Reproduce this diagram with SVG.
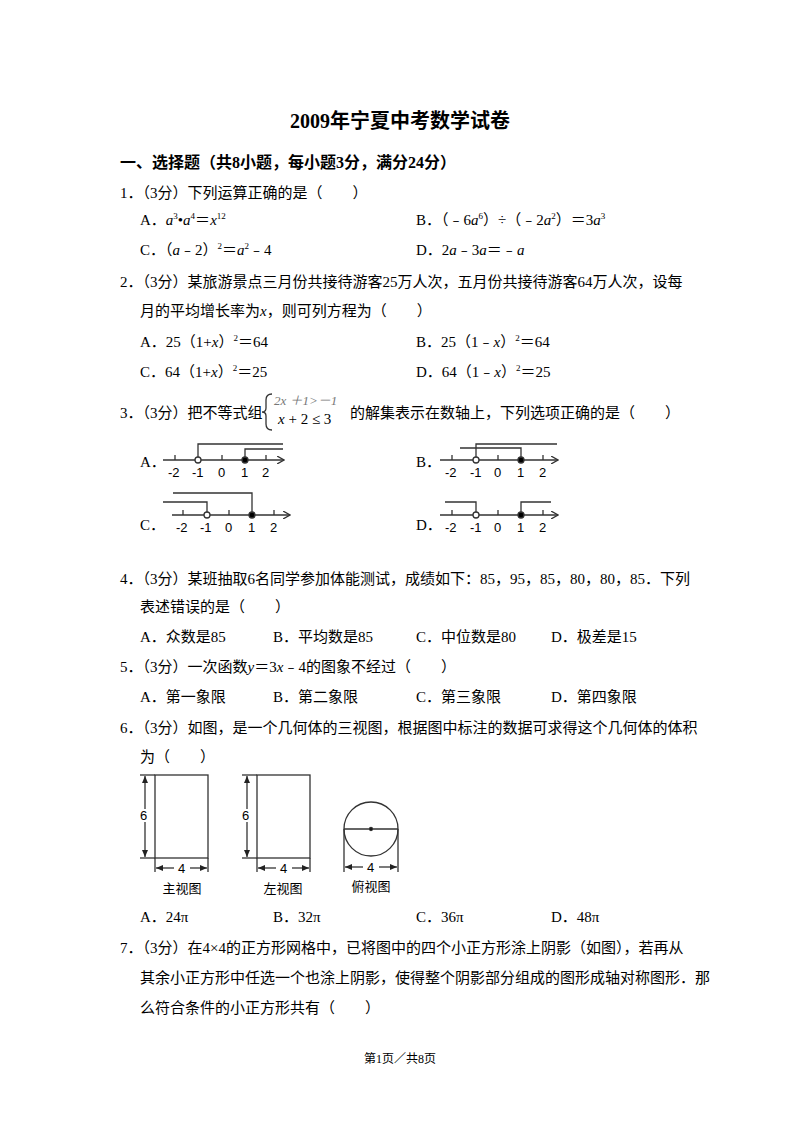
<svg xmlns="http://www.w3.org/2000/svg" width="800" height="1132" viewBox="0 0 800 1132">
<style>
text{font-family:"Liberation Serif","Noto Sans CJK SC",serif;font-size:15px;fill:#000}
.b{font-weight:bold}
.f{font-family:"Liberation Sans","Noto Sans CJK SC",sans-serif;font-size:13px}
.i{font-style:italic}
line,path,rect,circle{stroke:#333;stroke-width:1.3;fill:none}
.t{stroke:#888;stroke-width:1}
.o{fill:#fff}
.k{fill:#000}
</style>
<defs>
<marker id="ar" markerWidth="8" markerHeight="8" refX="7" refY="4" orient="auto" markerUnits="userSpaceOnUse"><path d="M0,0 L7,4 L0,8" stroke="#333" fill="none"/></marker>
<marker id="af" markerWidth="8" markerHeight="8" refX="7" refY="4" orient="auto-start-reverse" markerUnits="userSpaceOnUse"><path d="M0,1 L7,4 L0,7Z" style="fill:#222;stroke:none"/></marker>
</defs>
<rect x="0" y="0" width="800" height="1132" style="fill:#fff;stroke:none"/>
<text x="400" y="128" text-anchor="middle" class="b" style="font-size:20px">2009年宁夏中考数学试卷</text>
<text x="120" y="168" class="b" style="font-size:16px">一、选择题（共8小题，每小题3分，满分24分）</text>
<text x="120" y="198">1．（3分）下列运算正确的是（　　）</text>
<text x="140" y="225">A．<tspan class="i">a</tspan><tspan font-size="9" dy="-6">3</tspan><tspan dy="6">•</tspan><tspan class="i">a</tspan><tspan font-size="9" dy="-6">4</tspan><tspan dy="6">＝</tspan><tspan class="i">x</tspan><tspan font-size="9" dy="-6">12</tspan></text>
<text x="416" y="225">B．（﹣6<tspan class="i">a</tspan><tspan font-size="9" dy="-6">6</tspan><tspan dy="6">）÷（﹣2</tspan><tspan class="i">a</tspan><tspan font-size="9" dy="-6">2</tspan><tspan dy="6">）＝3</tspan><tspan class="i">a</tspan><tspan font-size="9" dy="-6">3</tspan></text>
<text x="140" y="255">C．（<tspan class="i">a</tspan>﹣2）<tspan font-size="9" dy="-6">2</tspan><tspan dy="6">＝</tspan><tspan class="i">a</tspan><tspan font-size="9" dy="-6">2</tspan><tspan dy="6">﹣4</tspan></text>
<text x="416" y="255">D．2<tspan class="i">a</tspan>﹣3<tspan class="i">a</tspan>＝﹣<tspan class="i">a</tspan></text>
<text x="120" y="287">2．（3分）某旅游景点三月份共接待游客25万人次，五月份共接待游客64万人次，设每</text>
<text x="140" y="316">月的平均增长率为<tspan class="i">x</tspan>，则可列方程为（　　）</text>
<text x="140" y="347">A．25（1+<tspan class="i">x</tspan>）<tspan font-size="9" dy="-6">2</tspan><tspan dy="6">＝64</tspan></text>
<text x="416" y="347">B．25（1﹣<tspan class="i">x</tspan>）<tspan font-size="9" dy="-6">2</tspan><tspan dy="6">＝64</tspan></text>
<text x="140" y="377">C．64（1+<tspan class="i">x</tspan>）<tspan font-size="9" dy="-6">2</tspan><tspan dy="6">＝25</tspan></text>
<text x="416" y="377">D．64（1﹣<tspan class="i">x</tspan>）<tspan font-size="9" dy="-6">2</tspan><tspan dy="6">＝25</tspan></text>
<text x="120" y="418">3．（3分）把不等式组</text>
<path d="M272,394 Q266,394 266,400 L266,408 Q266,412 262,412 Q266,412 266,416 L266,424 Q266,430 272,430" stroke="#000"/>
<text x="274" y="405" class="i" style="font-size:13px;fill:#777">2x ＋1&gt;－1</text>
<text x="278" y="424" style="font-size:15px"><tspan class="i">x</tspan> + 2 ≤ 3</text>
<text x="350" y="418">的解集表示在数轴上，下列选项正确的是（　　）</text>
<g id="optA">
<text x="140" y="467">A．</text>
<line x1="163" y1="460" x2="284" y2="460" marker-end="url(#ar)"/>
<g class="t"><line x1="175" y1="455" x2="175" y2="460"/><line x1="222" y1="455" x2="222" y2="460"/><line x1="266" y1="455" x2="266" y2="460"/></g>
<path d="M198,457 V444 H283"/><path d="M245,457 V449 H283"/>
<circle cx="198" cy="460" r="3" class="o"/><circle cx="245" cy="460" r="3" class="k"/>
<text class="f" x="168" y="477">-2</text><text class="f" x="192" y="477">-1</text><text class="f" x="218" y="477">0</text><text class="f" x="241" y="477">1</text><text class="f" x="262" y="477">2</text>
</g>
<g id="optB">
<text x="416" y="467">B．</text>
<line x1="440" y1="460" x2="558" y2="460" marker-end="url(#ar)"/>
<g class="t"><line x1="452" y1="455" x2="452" y2="460"/><line x1="498" y1="455" x2="498" y2="460"/><line x1="543" y1="455" x2="543" y2="460"/></g>
<path d="M476,457 V444 H557"/><path d="M460,448 H521 V457"/>
<circle cx="476" cy="460" r="3" class="o"/><circle cx="521" cy="460" r="3" class="k"/>
<text class="f" x="445" y="477">-2</text><text class="f" x="470" y="477">-1</text><text class="f" x="494" y="477">0</text><text class="f" x="517" y="477">1</text><text class="f" x="539" y="477">2</text>
</g>
<g id="optC">
<text x="140" y="530">C．</text>
<line x1="172" y1="515" x2="290" y2="515" marker-end="url(#ar)"/>
<g class="t"><line x1="183" y1="510" x2="183" y2="515"/><line x1="229" y1="510" x2="229" y2="515"/><line x1="274" y1="510" x2="274" y2="515"/></g>
<path d="M163,502 H207 V512"/><path d="M173,493 H252 V512"/>
<circle cx="207" cy="515" r="3" class="o"/><circle cx="252" cy="515" r="3" class="k"/>
<text class="f" x="176" y="532">-2</text><text class="f" x="200" y="532">-1</text><text class="f" x="225" y="532">0</text><text class="f" x="248" y="532">1</text><text class="f" x="270" y="532">2</text>
</g>
<g id="optD">
<text x="416" y="530">D．</text>
<line x1="440" y1="515" x2="558" y2="515" marker-end="url(#ar)"/>
<g class="t"><line x1="452" y1="510" x2="452" y2="515"/><line x1="498" y1="510" x2="498" y2="515"/><line x1="543" y1="510" x2="543" y2="515"/></g>
<path d="M445,502 H476 V512"/><path d="M521,512 V502 H551"/>
<circle cx="476" cy="515" r="3" class="o"/><circle cx="521" cy="515" r="3" class="k"/>
<text class="f" x="445" y="532">-2</text><text class="f" x="470" y="532">-1</text><text class="f" x="494" y="532">0</text><text class="f" x="517" y="532">1</text><text class="f" x="539" y="532">2</text>
</g>
<text x="120" y="584">4．（3分）某班抽取6名同学参加体能测试，成绩如下：85，95，85，80，80，85．下列</text>
<text x="140" y="612">表述错误的是（　　）</text>
<text x="140" y="642">A．众数是85</text><text x="273" y="642">B．平均数是85</text><text x="416" y="642">C．中位数是80</text><text x="551" y="642">D．极差是15</text>
<text x="120" y="672">5．（3分）一次函数<tspan class="i">y</tspan>＝3<tspan class="i">x</tspan>﹣4的图象不经过（　　）</text>
<text x="140" y="702">A．第一象限</text><text x="273" y="702">B．第二象限</text><text x="416" y="702">C．第三象限</text><text x="551" y="702">D．第四象限</text>
<text x="120" y="733">6．（3分）如图，是一个几何体的三视图，根据图中标注的数据可求得这个几何体的体积</text>
<text x="140" y="762">为（　　）</text>
<g id="front">
<rect x="155" y="775" width="53" height="83"/>
<line x1="140" y1="775" x2="155" y2="775"/><line x1="140" y1="858" x2="155" y2="858"/>
<line x1="145" y1="809" x2="145" y2="776" marker-end="url(#af)"/><line x1="145" y1="822" x2="145" y2="857" marker-end="url(#af)"/>
<text class="f" x="140" y="820">6</text>
<line x1="155" y1="858" x2="155" y2="872"/><line x1="208" y1="858" x2="208" y2="872"/>
<line x1="174" y1="868" x2="156" y2="868" marker-end="url(#af)"/><line x1="190" y1="868" x2="207" y2="868" marker-end="url(#af)"/>
<text class="f" x="178" y="873">4</text>
<text class="f" x="182" y="893" text-anchor="middle">主视图</text>
</g>
<g id="left">
<rect x="257" y="775" width="53" height="83"/>
<line x1="242" y1="775" x2="257" y2="775"/><line x1="242" y1="858" x2="257" y2="858"/>
<line x1="247" y1="809" x2="247" y2="776" marker-end="url(#af)"/><line x1="247" y1="822" x2="247" y2="857" marker-end="url(#af)"/>
<text class="f" x="242" y="820">6</text>
<line x1="257" y1="858" x2="257" y2="872"/><line x1="310" y1="858" x2="310" y2="872"/>
<line x1="276" y1="868" x2="258" y2="868" marker-end="url(#af)"/><line x1="292" y1="868" x2="309" y2="868" marker-end="url(#af)"/>
<text class="f" x="280" y="873">4</text>
<text class="f" x="283" y="893" text-anchor="middle">左视图</text>
</g>
<g id="top">
<circle cx="371" cy="829" r="27"/>
<line x1="344" y1="829" x2="398" y2="829"/>
<circle cx="371" cy="829" r="1.5" class="k"/>
<line x1="344" y1="829" x2="344" y2="872"/><line x1="398" y1="829" x2="398" y2="872"/>
<line x1="363" y1="867" x2="345" y2="867" marker-end="url(#af)"/><line x1="379" y1="867" x2="397" y2="867" marker-end="url(#af)"/>
<text class="f" x="367" y="872">4</text>
<text class="f" x="371" y="891" text-anchor="middle">俯视图</text>
</g>
<text x="140" y="922">A．24π</text><text x="273" y="922">B．32π</text><text x="416" y="922">C．36π</text><text x="551" y="922">D．48π</text>
<text x="120" y="953">7．（3分）在4×4的正方形网格中，已将图中的四个小正方形涂上阴影（如图），若再从</text>
<text x="140" y="983">其余小正方形中任选一个也涂上阴影，使得整个阴影部分组成的图形成轴对称图形．那</text>
<text x="140" y="1013">么符合条件的小正方形共有（　　）</text>
<text x="400" y="1063" text-anchor="middle" style="font-size:12px">第1页／共8页</text>
</svg>
